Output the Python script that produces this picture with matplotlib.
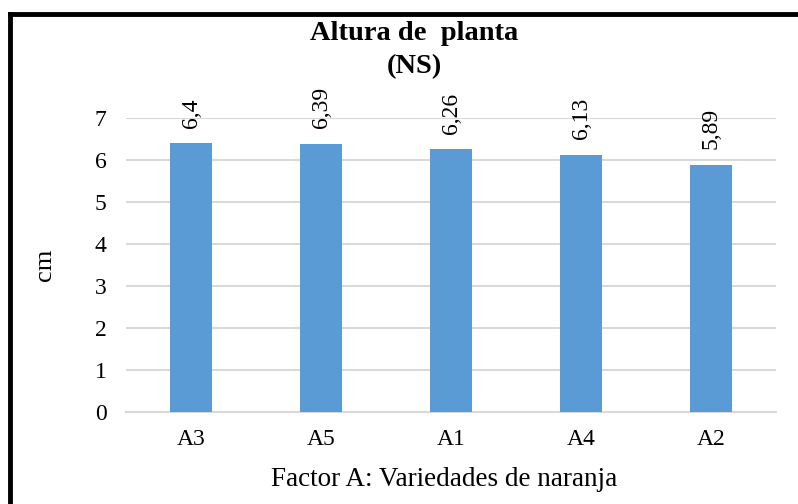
import matplotlib.pyplot as plt
from matplotlib.lines import Line2D

categories = ["A3", "A5", "A1", "A4", "A2"]
values = [6.40, 6.39, 6.26, 6.13, 5.89]
labels = ["6,4", "6,39", "6,26", "6,13", "5,89"]
yticks = [0, 1, 2, 3, 4, 5, 6, 7]

plt.rcParams["font.family"] = ["Liberation Serif", "DejaVu Serif"]

W, H = 798, 504
fig = plt.figure(figsize=(W / 100, H / 100), dpi=100)
ax = fig.add_axes([126 / W, 1 - 412 / H, 650 / W, 294 / H])

x = range(len(categories))
bars = ax.bar(x, values, width=0.32, color="#5B9BD5", zorder=3)
ax.set_xlim(-0.5, len(categories) - 0.5)
ax.set_ylim(0, 7)
ax.set_yticks(yticks)
ax.set_xticks(list(x))
ax.set_xticklabels(categories)
ax.tick_params(axis="both", length=0, labelsize=17, colors="black")
ax.tick_params(axis="x", pad=12)
ax.tick_params(axis="y", pad=14)
ax.grid(axis="y", color="#D9D9D9", linewidth=1.5, zorder=0)
for s in ["top", "right", "left"]:
    ax.spines[s].set_visible(False)
ax.spines["bottom"].set_color("#D9D9D9")
ax.spines["bottom"].set_linewidth(1.5)

for b, lab in zip(bars, labels):
    ax.annotate(lab, (b.get_x() + b.get_width() / 2, b.get_height()),
                xytext=(0, 11), textcoords="offset points",
                rotation=90, ha="center", va="bottom", fontsize=17)

ax.set_ylabel("cm", fontsize=19, labelpad=28)

fig.text(444 / W, 1 - 480 / H, "Factor A: Variedades de naranja",
         ha="center", va="center", fontsize=19.5)
fig.text(414 / W, 1 - 34 / H, "Altura de  planta", ha="center", va="center",
         fontsize=20.5, fontweight="bold")
fig.text(414 / W, 1 - 67 / H, "(NS)", ha="center", va="center",
         fontsize=20.5, fontweight="bold")

# black frame (top and left edges visible)
fig.add_artist(Line2D([10 / W, 1.0], [1 - 14 / H, 1 - 14 / H], color="black",
                      linewidth=3.5, transform=fig.transFigure))
fig.add_artist(Line2D([10 / W, 10 / W], [0, 1 - 14 / H], color="black",
                      linewidth=3.5, transform=fig.transFigure))

fig.savefig("out.png", dpi=100)
